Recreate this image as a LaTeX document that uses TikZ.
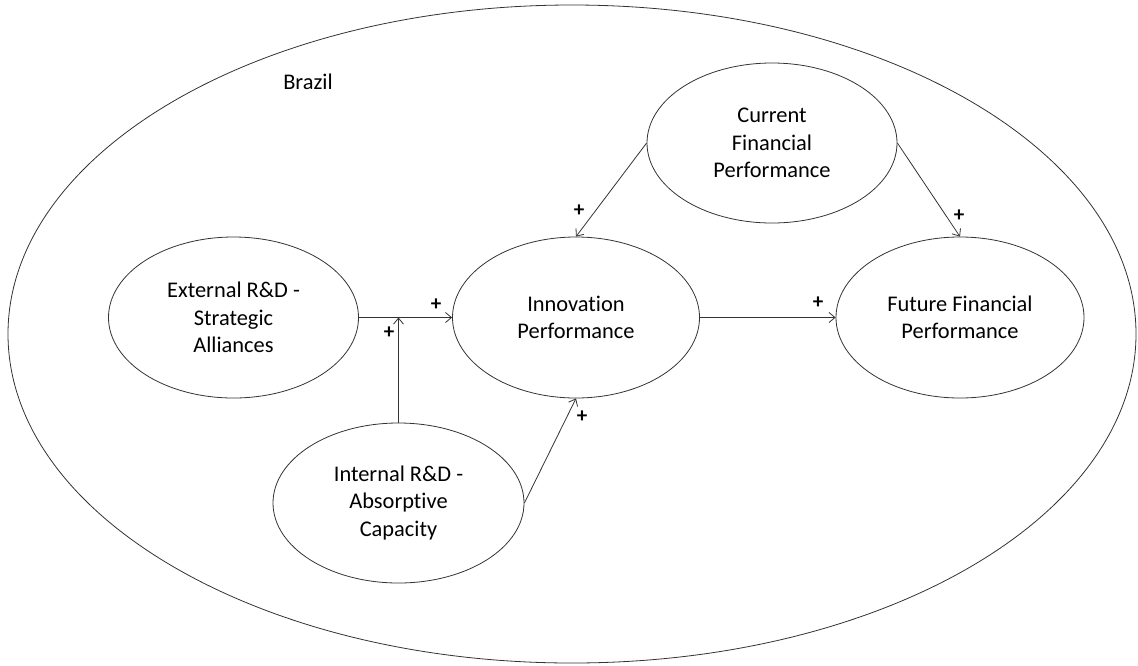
\documentclass[tikz,border=0pt]{standalone}
\usepackage{fontspec}
\setmainfont[Ligatures=NoCommon]{Carlito}
\usetikzlibrary{shapes.geometric,arrows.meta}
\begin{document}
\begin{tikzpicture}[x=1pt,y=-1pt,
  every node/.style={font=\fontsize{22.4}{27.5}\selectfont},
  construct/.style={draw=black!80,line width=0.8pt,ellipse,inner sep=0pt,align=center,
    minimum width=250pt,minimum height=161pt},
  link/.style={draw=black!80,line width=0.8pt,-{Straight Barb[length=6pt,width=10pt]}},
  sign/.style={inner sep=0pt,font=\fontsize{21}{24}\selectfont\bfseries}]
\useasboundingbox (0,0) rectangle (1138,665);
\draw[black!80,line width=0.8pt] (572,334) ellipse [x radius=564, y radius=329];
\node (brazil) at (308,82) {Brazil};
\node[construct] (ext) at (233.5,317.5) {External R\&D -\\Strategic\\Alliances};
\node[construct,minimum width=247pt] (inn) at (576,317.5) {Innovation\\Performance};
\node[construct,minimum height=160pt] (cur) at (772,143) {Current\\Financial\\Performance};
\node[construct,minimum width=248pt] (fut) at (960,317.5) {Future Financial\\Performance};
\node[construct,minimum width=251pt,minimum height=160pt] (int) at (398.5,503) {Internal R\&D -\\Absorptive\\Capacity};
\coordinate (j) at (int.north |- ext.east);
\draw[link] (ext.east) -- (inn.west);
\draw[link] (int.north) -- (j);
\draw[link] (int.east) -- (inn.south);
\draw[link] (cur.west) -- (inn.north);
\draw[link] (cur.east) -- (fut.north);
\draw[link] (inn.east) -- (fut.west);
\node[sign] (s1) at (436,305) {+};
\node[sign] (s2) at (389,333) {+};
\node[sign] (s3) at (579,211) {+};
\node[sign] (s4) at (959,216) {+};
\node[sign] (s5) at (818,303) {+};
\node[sign] (s6) at (582,417) {+};
\end{tikzpicture}
\end{document}
